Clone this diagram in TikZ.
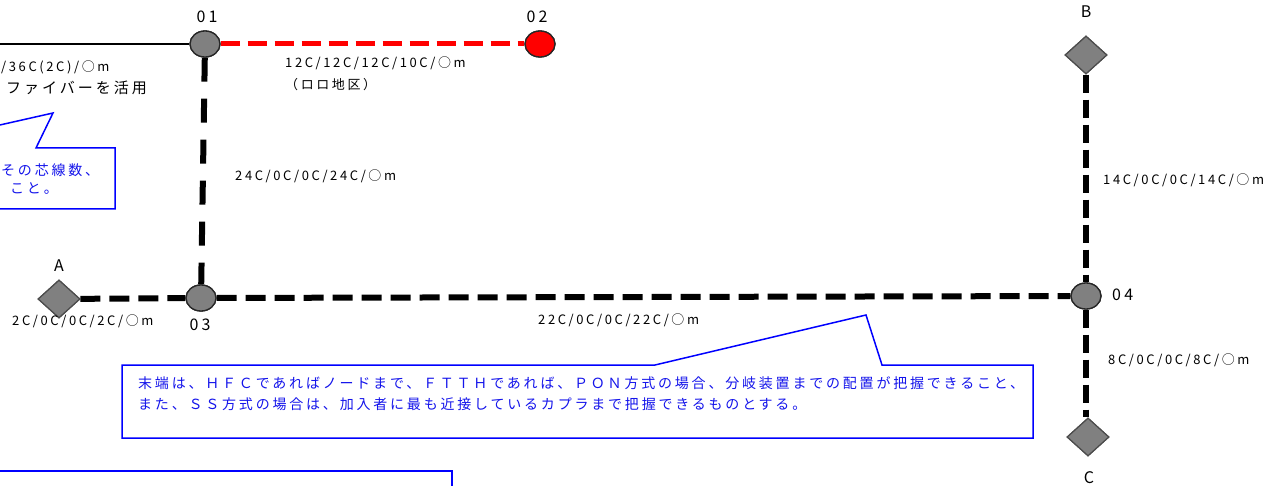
\documentclass[tikz,border=0pt]{standalone}
\usepackage{fontspec}
\setmainfont{Noto Sans CJK JP}
\newfontfamily\lblfont[LetterSpace=20]{Noto Sans CJK JP}
\newfontfamily\notefont[LetterSpace=20]{Noto Sans CJK JP}
\usetikzlibrary{shapes.geometric}
\definecolor{ngray}{RGB}{128,128,128}
\definecolor{nblue}{RGB}{0,0,255}
\definecolor{tblue}{RGB}{20,20,235}
\tikzset{
  hub/.style={ellipse,draw=black!85,line width=1.3pt,fill=ngray,minimum width=30pt,minimum height=26pt,inner sep=0pt},
  redhub/.style={hub,fill=red},
  term/.style={diamond,draw=black!70,line width=1.2pt,fill=ngray,minimum width=42pt,minimum height=38pt,inner sep=0pt},
  nlabel/.style={font=\lblfont\fontsize{16}{16}\selectfont,inner sep=0pt},
  clabel/.style={font=\lblfont\fontsize{13}{22}\selectfont,inner sep=0pt,anchor=west,align=left},
  cable/.style={line width=6pt,dash pattern=on 20pt off 9pt},
  cablev/.style={line width=6pt,dash pattern=on 24pt off 17pt},
  cableb/.style={line width=6pt,dash pattern=on 18pt off 7pt},
  redcable/.style={red,line width=5pt,dash pattern=on 19pt off 8pt},
  callout/.style={draw=nblue,line width=1.5pt,fill=white},
  notetext/.style={font=\notefont\fontsize{14}{21}\selectfont,text=tblue,inner sep=0pt,anchor=west},
}
\begin{document}
\begin{tikzpicture}[x=1pt,y=-1pt]
\useasboundingbox (0,0) rectangle (1263,486);
\clip (0,0) rectangle (1263,486);
\fill[white] (0,0) rectangle (1263,486);
% nodes
\node[hub] (n01) at (205,44) {};
\node[redhub] (n02) at (540,44) {};
\node[hub] (n03) at (201,298) {};
\node[hub] (n04) at (1086,296) {};
\node[term] (tA) at (59,299) {};
\node[term] (tB) at (1086,55) {};
\node[term] (tC) at (1088,437) {};
\coordinate (w0) at (-5,44);
% connectors
\draw[line width=2pt] (w0) -- (n01);
\draw[redcable] (n01) -- (n02);
\draw[cablev] (n01) -- (n03);
\draw[cable] (tA) -- (n03);
\draw[cable] (n03) -- (n04);
\draw[cableb] (tB) -- (n04);
\draw[cableb] (n04.south) -- (n04.south |- tC.north);
% redraw nodes on top
\node[hub] at (n01) {};
\node[redhub] at (n02) {};
\node[hub] at (n03) {};
\node[hub] at (n04) {};
\node[term] at (tA) {};
\node[term] at (tB) {};
\node[term] at (tC) {};
% node labels
\node[nlabel] (l01) at (207,17) {01};
\node[nlabel] (l02) at (537,17) {02};
\node[nlabel] (l03) at (200,325) {03};
\node[nlabel,anchor=west] (l04) at (1112,295) {04};
\node[nlabel] (lA) at (59,266) {A};
\node[nlabel] (lB) at (1086,12) {B};
\node[nlabel] (lC) at (1089,478) {C};
% cable labels
\node[clabel,anchor=north west] (c12) at (285,57) {12C/12C/12C/10C/○m\\（ロロ地区）};
\node[clabel] (c24) at (235,176) {24C/0C/0C/24C/○m};
\node[clabel] (c2) at (12,321) {2C/0C/0C/2C/○m};
\node[clabel] (c22) at (538,320) {22C/0C/0C/22C/○m};
\node[clabel] (c14) at (1103,180) {14C/0C/0C/14C/○m};
\node[clabel] (c8) at (1108,360) {8C/0C/0C/8C/○m};
\node[clabel] (c36) at (1,67) {/36C(2C)/○m};
\node[notetext,text=black,font=\notefont\fontsize{15}{21}\selectfont] (cfib) at (6,88) {ファイバーを活用};
% left callout
\draw[callout] (-20,148) -- (-102,148) -- (53,113) -- (36,148) -- (115,148) -- (115,209) -- (-20,209);
\node[notetext] (t1a) at (1,170) {その芯線数、};
\node[notetext] (t1b) at (10,188) {こと。};
% bottom callout
\draw[callout] (655,365) -- (866,315) -- (882,365) -- (1033,365) -- (1033,438) -- (122,438) -- (122,365) -- cycle;
\node[notetext] (t2a) at (138,383) {末端は、ＨＦＣであればノードまで、ＦＴＴＨであれば、ＰＯＮ方式の場合、分岐装置までの配置が把握できること、};
\node[notetext] (t2b) at (138,404) {また、ＳＳ方式の場合は、加入者に最も近接しているカプラまで把握できるものとする。};
% lower-left box
\draw[callout] (-5,471) -- (452,471) -- (452,495);
\end{tikzpicture}
\end{document}
